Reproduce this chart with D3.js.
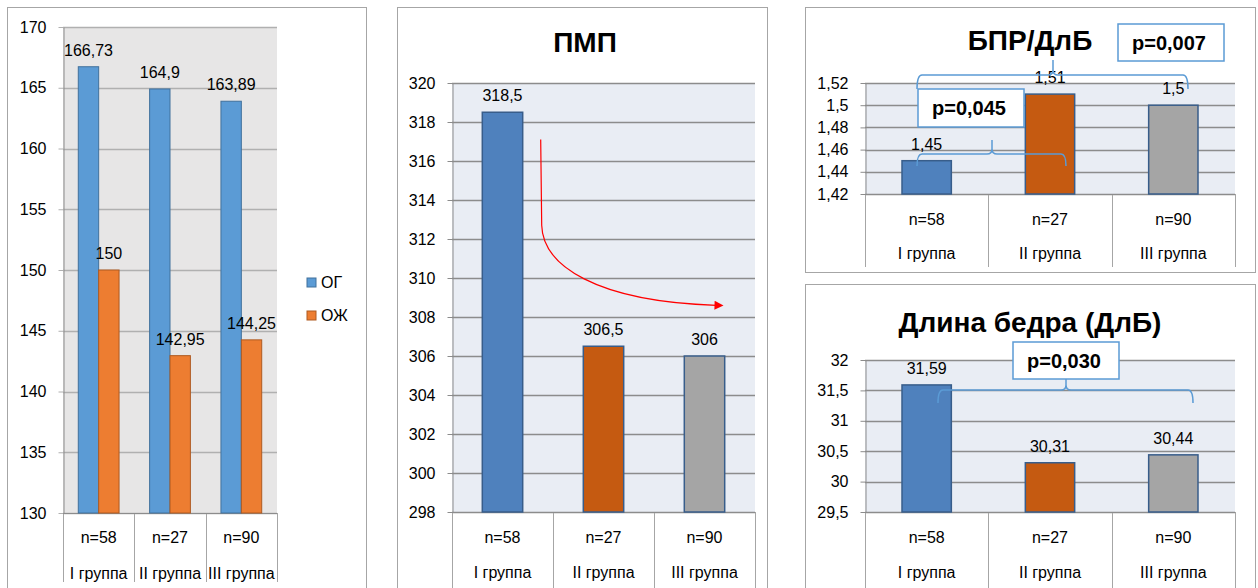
<!DOCTYPE html>
<html>
<head>
<meta charset="utf-8">
<script src="https://cdn.jsdelivr.net/npm/d3@7"></script>
<style>
  html, body { margin: 0; padding: 0; background: #fff; }
  svg { display: block; font-family: "Liberation Sans", Arial, sans-serif; }
</style>
</head>
<body>
<svg id="chart" width="1258" height="588"></svg>
<script>
// ---- data ----
const groups = ["I группа", "II группа", "III группа"];
const sizes = ["n=58", "n=27", "n=90"];
const series = ["ОГ", "ОЖ"];
const ogValues = [166.73, 164.9, 163.89];
const ozhValues = [150, 142.95, 144.25];
const pmpValues = [318.5, 306.5, 306];
const bprValues = [1.45, 1.51, 1.5];
const dlbValues = [31.59, 30.31, 30.44];
const heightTicks = [130, 135, 140, 145, 150, 155, 160, 165, 170];
const pmpTicks = [298, 300, 302, 304, 306, 308, 310, 312, 314, 316, 318, 320];
const bprTicks = [1.42, 1.44, 1.46, 1.48, 1.5, 1.52];
const dlbTicks = [29.5, 30, 30.5, 31, 31.5, 32];
const pTexts = ["p=0,045", "p=0,007", "p=0,030"];

const svg = d3.select("#chart");
const fmt = v => String(+v.toFixed(2)).replace(".", ",");
const groupColors = ["#4f81bd", "#c55a11", "#a5a5a5"];
const bracketColor = "#5b9bd5";
const FS = 16;

// frames
function frame(x, y, w, h) {
  svg.append("rect").attr("x", x + 0.5).attr("y", y + 0.5).attr("width", w).attr("height", h)
    .attr("fill", "#fff").attr("stroke", "#a6a6a6").attr("stroke-width", 1);
}
frame(7, 7, 359, 600);
frame(397, 7, 370, 600);
frame(805, 7, 450, 265);
frame(805, 284, 450, 320);

// common plot scaffold: background, grid, y axis, category axis
function scaffold(o) {
  const g = svg.append("g");
  const y = d3.scaleLinear().domain([o.ticks[0], o.ticks[o.ticks.length - 1]]).range([o.bottom, o.top]);
  g.append("rect").attr("x", o.left).attr("y", o.top).attr("width", o.right - o.left)
    .attr("height", o.bottom - o.top).attr("fill", o.bg);
  g.selectAll("line.grid").data(o.ticks).join("line").attr("class", "grid")
    .attr("x1", o.left).attr("x2", o.right)
    .attr("y1", d => Math.round(y(d)) + 0.5).attr("y2", d => Math.round(y(d)) + 0.5)
    .attr("stroke", o.grid).attr("stroke-width", 1.3);
  const ax = g.append("g").attr("transform", `translate(${o.left + 0.5},0)`)
    .call(d3.axisLeft(y).tickValues(o.ticks).tickSize(5).tickSizeOuter(0).tickFormat(fmt).tickPadding(12));
  ax.select(".domain").attr("stroke", "#8c8c8c");
  ax.selectAll(".tick line").attr("stroke", o.grid);
  ax.selectAll(".tick text").attr("font-size", FS).attr("fill", "#000")
    .attr("font-family", "'Liberation Sans', Arial, sans-serif");

  // category axis with divider lines
  const xc = d3.scaleBand().domain(groups).range([o.left, o.right]);
  const edges = groups.map(d => xc(d)).concat([o.right]);
  g.selectAll("line.div").data(edges).join("line").attr("class", "div")
    .attr("x1", d => Math.round(d) + 0.5).attr("x2", d => Math.round(d) + 0.5)
    .attr("y1", o.bottom).attr("y2", o.catBottom).attr("stroke", "#a6a6a6");
  g.append("line").attr("x1", o.left).attr("x2", o.right).attr("y1", o.bottom + 0.5).attr("y2", o.bottom + 0.5)
    .attr("stroke", "#8c8c8c");
  g.selectAll("text.n").data(sizes).join("text").attr("class", "n")
    .attr("x", (d, i) => xc(groups[i]) + xc.bandwidth() / 2).attr("y", o.nY)
    .attr("text-anchor", "middle").attr("font-size", FS).text(d => d);
  g.selectAll("text.gr").data(groups).join("text").attr("class", "gr")
    .attr("x", d => xc(d) + xc.bandwidth() / 2).attr("y", o.gY)
    .attr("text-anchor", "middle").attr("font-size", FS).text(d => d);
  return { g, y, xc };
}

// ---- Panel 1: heights by sex ----
{
  const o = { left: 63, right: 277, top: 27, bottom: 513, ticks: heightTicks, bg: "#e7e6e6",
    grid: "#b0b0b0", catBottom: 582, nY: 543, gY: 579 };
  const { g, y } = scaffold(o);
  const x0 = d3.scaleBand().domain(groups).range([o.left, o.right]).paddingInner(3 / 7).paddingOuter(1.5 / 7);
  const x1 = d3.scaleBand().domain(series).range([0, x0.bandwidth()]);
  const vals = { "ОГ": ogValues, "ОЖ": ozhValues };
  const fills = { "ОГ": "#5b9bd5", "ОЖ": "#ed7d31" };
  const strokes = { "ОГ": "#41719c", "ОЖ": "#ae5a21" };
  series.forEach(s => {
    g.selectAll(null).data(vals[s]).join("rect")
      .attr("x", (d, i) => x0(groups[i]) + x1(s)).attr("width", x1.bandwidth())
      .attr("y", d => y(d)).attr("height", d => y(o.ticks[0]) - y(d))
      .attr("fill", fills[s]).attr("stroke", strokes[s]).attr("stroke-width", 1);
    g.selectAll(null).data(vals[s]).join("text")
      .attr("x", (d, i) => x0(groups[i]) + x1(s) + x1.bandwidth() / 2).attr("y", d => y(d) - 11)
      .attr("text-anchor", "middle").attr("font-size", FS).text(fmt);
  });
  const lg = svg.append("g");
  series.forEach((s, i) => {
    lg.append("rect").attr("x", 307).attr("y", 278 + i * 33).attr("width", 9).attr("height", 9)
      .attr("fill", fills[s]).attr("stroke", strokes[s]);
    lg.append("text").attr("x", 321).attr("y", 288 + i * 33).attr("font-size", FS).text(s);
  });
}

// single-series panel with three coloured bars
function singlePanel(o, values) {
  const { g, y } = scaffold(o);
  const x = d3.scaleBand().domain(groups).range([o.left, o.right]).paddingInner(0.6).paddingOuter(0.3);
  g.selectAll(null).data(values).join("rect")
    .attr("x", (d, i) => x(groups[i])).attr("width", x.bandwidth())
    .attr("y", d => y(d)).attr("height", d => y(o.ticks[0]) - y(d))
    .attr("fill", (d, i) => groupColors[i]).attr("stroke", "#385d8a").attr("stroke-width", 1.5);
  g.selectAll(null).data(values).join("text")
    .attr("x", (d, i) => x(groups[i]) + x.bandwidth() / 2).attr("y", d => y(d) - 11)
    .attr("text-anchor", "middle").attr("font-size", FS).text(fmt);
  svg.append("text").attr("x", o.titleX).attr("y", o.titleY).attr("text-anchor", "middle")
    .attr("font-size", 28).attr("font-weight", "bold").text(o.title);
  return { g, y, x };
}

// curly bracket between two bars with a spike up to its label box
function bracket(x1, x2, xm, yl, yEnd, yTop) {
  const r = 5;
  const path = `M${x1},${yEnd} Q${x1},${yl} ${x1 + r},${yl} L${xm - r},${yl} Q${xm},${yl} ${xm},${yl - r} L${xm},${yTop}` +
    ` M${xm},${yl - r} Q${xm},${yl} ${xm + r},${yl} L${x2 - r},${yl} Q${x2},${yl} ${x2},${yEnd}`;
  svg.append("path").attr("d", path).attr("fill", "none").attr("stroke", bracketColor).attr("stroke-width", 1.5);
}
function pBox(x, y, w, h, text) {
  svg.append("rect").attr("x", x).attr("y", y).attr("width", w).attr("height", h)
    .attr("fill", "#fff").attr("stroke", bracketColor).attr("stroke-width", 1.5);
  svg.append("text").attr("x", x + 14).attr("y", y + h / 2 + 7).attr("font-size", 20)
    .attr("font-weight", "bold").text(text);
}

// ---- Panel 2: ПМП ----
{
  const o = { left: 452, right: 755, top: 83, bottom: 512, ticks: pmpTicks, bg: "#e9edf4",
    grid: "#8c8c8c", catBottom: 600, nY: 543, gY: 578, title: "ПМП", titleX: 585, titleY: 52 };
  const { y, x } = singlePanel(o, pmpValues);
  // decline arrow from group I towards group III
  const defs = svg.append("defs");
  defs.append("marker").attr("id", "arrowHead").attr("viewBox", "0 0 10 10").attr("refX", 2).attr("refY", 5)
    .attr("markerWidth", 11).attr("markerHeight", 9).attr("markerUnits", "userSpaceOnUse").attr("orient", "auto")
    .append("path").attr("d", "M0,0 L10,5 L0,10 Z").attr("fill", "#ff0000");
  const xs = x(groups[0]) + x.bandwidth() + 18;
  const xe = x(groups[2]) + 32;
  svg.append("path")
    .attr("d", `M${xs},${y(317.1)} L${xs + 1},${y(312.7)} C${xs + 2},${y(310.65)} ${xs + 55},${y(308.8)} ${xe},${y(308.6)}`)
    .attr("fill", "none").attr("stroke", "#ff0000").attr("stroke-width", 1.2).attr("marker-end", "url(#arrowHead)");
}

// ---- Panel 3: БПР/ДлБ ----
{
  const o = { left: 865, right: 1235, top: 83, bottom: 194, ticks: bprTicks, bg: "#e9edf4",
    grid: "#8c8c8c", catBottom: 267, nY: 225, gY: 259, title: "БПР/ДлБ", titleX: 1030, titleY: 50 };
  singlePanel(o, bprValues);
  bracket(917, 1066, 992, 154, 166, 140);
  pBox(918, 89, 106, 38, pTexts[0]);
  bracket(917, 1188, 1053, 75, 89, 60);
  pBox(1118, 24, 106, 37, pTexts[1]);
}

// ---- Panel 4: Длина бедра (ДлБ) ----
{
  const o = { left: 865, right: 1235, top: 360, bottom: 512, ticks: dlbTicks, bg: "#e9edf4",
    grid: "#8c8c8c", catBottom: 600, nY: 543, gY: 578, title: "Длина бедра (ДлБ)", titleX: 1030, titleY: 332 };
  singlePanel(o, dlbValues);
  bracket(938, 1193, 1066, 390, 403, 379);
  pBox(1013, 342, 106, 37, pTexts[2]);
}
</script>
</body>
</html>
